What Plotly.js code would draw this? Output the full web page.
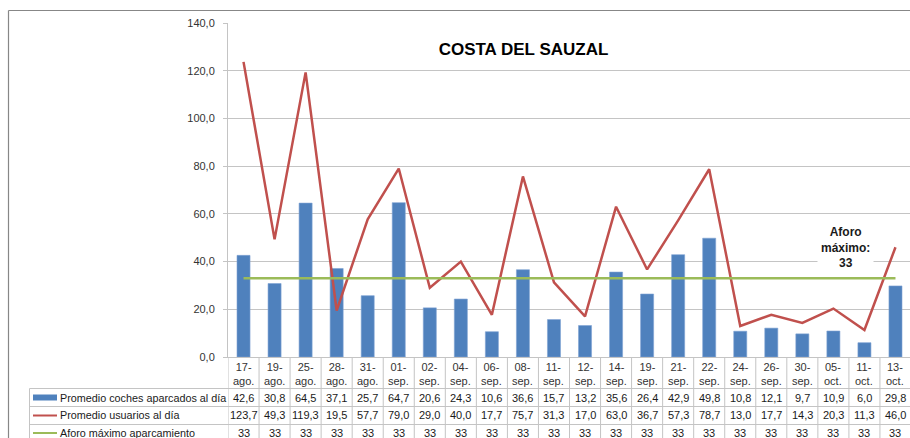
<!DOCTYPE html>
<html><head><meta charset="utf-8">
<script src="https://cdn.plot.ly/plotly-3.0.1.min.js"></script>
<style>html,body{margin:0;padding:0;overflow:hidden;background:#fff}#chart{width:912px;height:438px}</style>
</head><body><div id="chart"></div>
<script>
const categories = ['17-ago.','19-ago.','25-ago.','28-ago.','31-ago.','01-sep.','02-sep.','04-sep.','06-sep.','08-sep.','11-sep.','12-sep.','14-sep.','19-sep.','21-sep.','22-sep.','24-sep.','26-sep.','30-sep.','05-oct.','11-oct.','13-oct.'];
const cochesAparcados = [42.6,30.8,64.5,37.1,25.7,64.7,20.6,24.3,10.6,36.6,15.7,13.2,35.6,26.4,42.9,49.8,10.8,12.1,9.7,10.9,6.0,29.8];
const usuarios = [123.7,49.3,119.3,19.5,57.7,79.0,29.0,40.0,17.7,75.7,31.3,17.0,63.0,36.7,57.3,78.7,13.0,17.7,14.3,20.3,11.3,46.0];
const aforo = [33,33,33,33,33,33,33,33,33,33,33,33,33,33,33,33,33,33,33,33,33,33];
const seriesNames = ['Promedio coches aparcados al día','Promedio usuarios al día','Aforo máximo aparcamiento'];
const chartTitle = 'COSTA DEL SAUZAL';
const aforoLabel = 'Aforo<br>máximo:<br>33';

const BLUE='#4F81BD', RED='#C0504D', GREEN='#9BBB59';
const W=912, H=438, L=228, R=1, T=23, B=81;
const PW=W-L-R, PH=H-T-B;
const px2x = p => (p-L)/PW;
const px2y = p => (T+PH-p)/PH;
const fmt = v => v.toFixed(1).replace('.',',');
const GRID='#C4C4C4';
const FONT='Liberation Sans, Arial, sans-serif';

const xs = categories.map((c,i)=>i);
const traces = [
  {type:'bar', x:xs, y:cochesAparcados, name:seriesNames[0], marker:{color:BLUE, line:{color:'#7FA3D3', width:0.6}}, hoverinfo:'y'},
  {type:'scatter', mode:'lines', x:xs, y:usuarios, name:seriesNames[1], line:{color:RED, width:2.5}},
  {type:'scatter', mode:'lines', x:xs, y:aforo, name:seriesNames[2], line:{color:GREEN, width:2.5}}
];

const shapes = [];
const annotations = [];
const rowLines = [388.5, 406.5, 424.5, 442.5];
const rowCenters = [397.5, 415.5, 433];
// outer border
shapes.push({type:'line', xref:'paper', yref:'paper', x0:px2x(8.5), x1:px2x(W+5), y0:px2y(10.5), y1:px2y(10.5), line:{color:'#878787', width:1.2}});
shapes.push({type:'line', xref:'paper', yref:'paper', x0:px2x(8.5), x1:px2x(8.5), y0:px2y(10.5), y1:px2y(H+5), line:{color:'#878787', width:1.2}});
// column separators
for (let i=0;i<=categories.length;i++){
  shapes.push({type:'line', xref:'x', yref:'paper', x0:i-0.5, x1:i-0.5, y0:px2y(357), y1:px2y(H+5), line:{color:GRID, width:1}});
}
// left header column
shapes.push({type:'line', xref:'paper', yref:'paper', x0:px2x(29.5), x1:px2x(29.5), y0:px2y(rowLines[0]), y1:px2y(H+5), line:{color:GRID, width:1}});
rowLines.forEach(y=>{
  shapes.push({type:'line', xref:'paper', yref:'paper', x0:px2x(29.5), x1:px2x(W+5), y0:px2y(y), y1:px2y(y), line:{color:GRID, width:1}});
});
// legend keys
shapes.push({type:'rect', xref:'paper', yref:'paper', x0:px2x(33), x1:px2x(57), y0:px2y(rowCenters[0]+3), y1:px2y(rowCenters[0]-3), fillcolor:BLUE, line:{width:0}});
shapes.push({type:'line', xref:'paper', yref:'paper', x0:px2x(33), x1:px2x(57), y0:px2y(rowCenters[1]), y1:px2y(rowCenters[1]), line:{color:RED, width:2}});
shapes.push({type:'line', xref:'paper', yref:'paper', x0:px2x(33), x1:px2x(57), y0:px2y(rowCenters[2]), y1:px2y(rowCenters[2]), line:{color:GREEN, width:2}});

const tf = {family:FONT, size:11, color:'#1a1a1a'};
seriesNames.forEach((n,r)=>{
  annotations.push({xref:'paper', yref:'paper', x:px2x(58), y:px2y(rowCenters[r]), xanchor:'left', yanchor:'middle', text:n, showarrow:false, font:{family:FONT, size:10.8, color:'#1a1a1a'}});
});
// category labels
categories.forEach((c,i)=>{
  const parts = c.split('-');
  annotations.push({xref:'x', yref:'paper', x:i, y:px2y(373.5), xanchor:'center', yanchor:'middle', text:parts[0]+'-<br>'+parts[1], showarrow:false, font:{family:FONT, size:11, color:'#333'}});
});
const rows = [cochesAparcados.map(fmt), usuarios.map(fmt), aforo.map(String)];
rows.forEach((vals,r)=>{
  vals.forEach((v,i)=>{
    annotations.push({xref:'x', yref:'paper', x:i, y:px2y(rowCenters[r]), xanchor:'center', yanchor:'middle', text:v, showarrow:false, font:tf});
  });
});
// aforo label
annotations.push({xref:'paper', yref:'paper', x:px2x(845.5), y:px2y(248), xanchor:'center', yanchor:'middle', text:'<b>'+aforoLabel+'</b>', showarrow:false, bgcolor:'#ffffff', borderpad:3, font:{family:FONT, size:12, color:'#1a1a1a'}});

const layout = {
  width:W, height:H,
  margin:{l:L, r:R, t:T, b:B, pad:0},
  paper_bgcolor:'#fff', plot_bgcolor:'#fff',
  showlegend:false,
  separators:',.',
  bargap:0.58,
  title:{text:'<b>'+chartTitle+'</b>', xref:'container', yref:'container', x:523.5/W, y:1-49.5/H, xanchor:'center', yanchor:'middle', font:{family:FONT, size:17, color:'#000'}},
  xaxis:{type:'linear', range:[-0.5, categories.length-0.5], showticklabels:false, showgrid:false, zeroline:false, showline:true, linecolor:GRID, linewidth:1, ticks:'', fixedrange:true},
  yaxis:{range:[0,140], dtick:20, tickformat:'.1f', showgrid:true, gridcolor:GRID, gridwidth:1, zeroline:false, showline:true, linecolor:GRID, linewidth:1, ticks:'outside', ticklen:4, tickcolor:GRID, tickfont:{family:FONT, size:11, color:'#333'}, ticklabelstandoff:6, fixedrange:true},
  shapes:shapes,
  annotations:annotations
};
Plotly.newPlot('chart', traces, layout, {displayModeBar:false, staticPlot:true});
</script></body></html>
